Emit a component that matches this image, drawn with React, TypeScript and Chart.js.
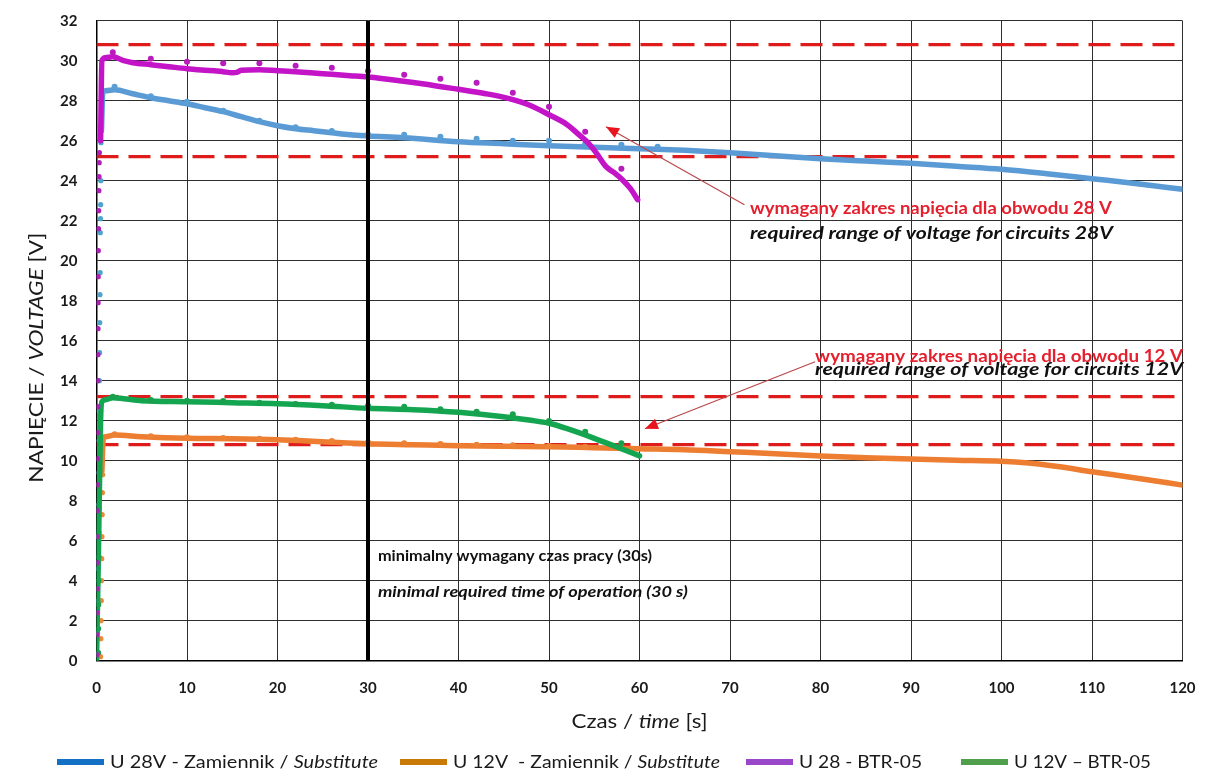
import React, { useEffect, useRef } from "react";
import { Chart, registerables } from "chart.js";

Chart.register(...registerables);

// ---------- DATA ----------
const X_MIN = 0;
const X_MAX = 120;
const X_STEP = 10;
const Y_MIN = 0;
const Y_MAX = 32;
const Y_STEP = 2;

// required voltage ranges (red dashed limits)
const range28 = [30.8, 25.2];
const range12 = [13.2, 10.8];
// minimal required operating time
const minTime = 30;

// U 28V - Zamiennik / Substitute (blue)
const blueLineT = [0.55, 0.7, 1, 2, 4, 6, 8, 10, 12, 14, 16, 18, 20, 22, 24, 26, 28, 30, 34, 40, 45, 50, 55, 60, 65, 70, 75, 80, 85, 90, 95, 100, 105, 110, 115, 120];
const blueLineV = [26.5, 28.45, 28.5, 28.55, 28.35, 28.15, 28.0, 27.85, 27.65, 27.45, 27.2, 26.95, 26.75, 26.6, 26.5, 26.4, 26.3, 26.24, 26.15, 25.95, 25.85, 25.75, 25.67, 25.6, 25.52, 25.4, 25.25, 25.1, 24.98, 24.87, 24.72, 24.57, 24.35, 24.1, 23.85, 23.57];
const blueDotT = [2, 6, 10, 14, 18, 22, 26, 30, 34, 38, 42, 46, 50, 54, 58, 62];
const blueDotV = [28.7, 28.22, 27.95, 27.5, 27.0, 26.67, 26.48, 26.32, 26.3, 26.2, 26.1, 26.0, 26.0, 25.85, 25.8, 25.7];
const blueRiseT = [0.12, 0.15, 0.18, 0.2, 0.22, 0.25, 0.27, 0.3, 0.32, 0.34, 0.36, 0.38, 0.4, 0.42, 0.44, 0.46, 0.48, 0.5];
const blueRiseV = [1.4, 3.0, 4.6, 6.2, 7.8, 9.4, 11.0, 12.5, 14.0, 15.4, 16.9, 18.3, 19.4, 21.4, 22.1, 22.8, 24.0, 25.9];

// U 12V - Zamiennik / Substitute (orange)
const orangeLineT = [0.6, 0.75, 1, 2, 5, 10, 15, 20, 25, 30, 35, 40, 45, 50, 55, 60, 65, 70, 75, 80, 85, 90, 95, 100, 103, 106, 110, 115, 120];
const orangeLineV = [9.5, 11.15, 11.2, 11.28, 11.2, 11.12, 11.1, 11.05, 10.95, 10.85, 10.8, 10.75, 10.72, 10.7, 10.65, 10.6, 10.55, 10.45, 10.35, 10.24, 10.15, 10.08, 10.02, 9.97, 9.88, 9.72, 9.45, 9.12, 8.78];
const orangeDotT = [2, 6, 10, 14, 18, 22, 26, 30, 34, 38, 42, 46, 50, 54, 58];
const orangeDotV = [11.32, 11.22, 11.17, 11.14, 11.1, 11.05, 10.98, 10.92, 10.87, 10.84, 10.8, 10.77, 10.73, 10.7, 10.66];
const orangeRiseT = [0.45, 0.48, 0.5, 0.53, 0.55, 0.58, 0.6, 0.63, 0.65, 0.68];
const orangeRiseV = [0.2, 1.1, 2.0, 3.0, 4.0, 5.1, 6.2, 7.3, 8.4, 9.3];

// U 28 - BTR-05 (purple)
const purpleLineT = [0.45, 0.6, 1, 1.8, 3, 4, 6, 8, 10, 12, 13, 14, 15, 15.5, 16, 18, 20, 22, 25, 28, 30, 33.5, 36, 40, 43, 45.6, 48, 50, 52, 53.3, 54.3, 55.2, 56.3, 57.2, 58.1, 59, 59.8];
const purpleLineV = [26.0, 30.0, 30.15, 30.2, 30.0, 29.9, 29.8, 29.7, 29.6, 29.52, 29.5, 29.45, 29.4, 29.42, 29.52, 29.55, 29.5, 29.45, 29.35, 29.25, 29.18, 29.0, 28.85, 28.57, 28.35, 28.1, 27.75, 27.3, 26.8, 26.3, 25.9, 25.4, 24.7, 24.4, 24.05, 23.6, 23.05];
const purpleDotT = [1.8, 6, 10, 14, 18, 22, 26, 30, 34, 38, 42, 46, 50, 54, 58];
const purpleDotV = [30.42, 30.1, 29.95, 29.87, 29.87, 29.75, 29.65, 29.48, 29.3, 29.1, 28.9, 28.4, 27.7, 26.45, 24.6];
const purpleRiseT = [0.04, 0.05, 0.06, 0.07, 0.08, 0.09, 0.1, 0.11, 0.12, 0.13, 0.14, 0.15, 0.16, 0.17, 0.18, 0.19, 0.2, 0.22, 0.24, 0.26, 0.28, 0.3, 0.32];
const purpleRiseV = [0.3, 1.3, 2.4, 3.6, 4.9, 6.2, 7.5, 8.8, 10.1, 11.4, 12.7, 14.0, 15.3, 16.6, 17.9, 19.2, 20.5, 21.6, 22.5, 23.5, 24.2, 24.9, 25.4];

// U 12V – BTR-05 (green)
const greenLineT = [0, 0.2, 0.45, 0.6, 1, 1.8, 3, 5, 10, 15, 20, 25, 30, 35, 40, 45, 48, 50, 52, 55, 58, 60];
const greenLineV = [0, 5.0, 12.0, 12.95, 13.05, 13.15, 13.1, 13.0, 12.95, 12.9, 12.85, 12.75, 12.62, 12.55, 12.42, 12.2, 12.02, 11.87, 11.6, 11.12, 10.6, 10.24];
const greenDotT = [1.8, 6, 10, 14, 18, 22, 26, 30, 34, 38, 42, 46, 50, 54, 58];
const greenDotV = [13.2, 13.03, 13.0, 12.98, 12.9, 12.83, 12.8, 12.75, 12.7, 12.57, 12.45, 12.32, 11.98, 11.45, 10.87];
const greenRiseT = [0.22, 0.23, 0.24, 0.25, 0.26, 0.27, 0.28, 0.29, 0.3, 0.31];
const greenRiseV = [0.4, 1.6, 2.8, 4.0, 5.2, 6.4, 7.6, 8.8, 10.0, 11.2];

const legendLabels = [
  [{ t: "U 28V - Zamiennik / " }, { t: "Substitute", it: true }],
  [{ t: "U 12V  - Zamiennik / " }, { t: "Substitute", it: true }],
  [{ t: "U 28 - BTR-05" }],
  [{ t: "U 12V \u2013 BTR-05" }],
];
const legendColors = ["#1470c4", "#c97a06", "#9a46c8", "#4f9f4c"];

// ---------- STYLE ----------
const FONT = "Lato, 'Open Sans', sans-serif";
const C_BLUE = "#5b9bd5";
const C_ORANGE = "#ed7d31";
const C_PURPLE = "#c414c8";
const C_GREEN = "#14a550";
const C_RED = "#de1c1c";

const pts = (t: number[], v: number[]) => t.map((x, i) => ({ x, y: v[i] }));

type Run = { t: string; it?: boolean; b?: boolean };

function drawRuns(
  ctx: CanvasRenderingContext2D,
  runs: Run[],
  x: number,
  y: number,
  size: number,
  color: string,
  targetW?: number,
  align: "left" | "center" = "left",
  bold = false
) {
  const fonts = runs.map(
    (r) => `${r.it ? "italic " : ""}${r.b || bold ? "bold " : ""}${size}px ${FONT}`
  );
  const widths = runs.map((r, i) => {
    ctx.font = fonts[i];
    return ctx.measureText(r.t).width;
  });
  const natural = widths.reduce((a, b) => a + b, 0);
  const w = targetW ?? natural;
  const sx = w / natural;
  ctx.save();
  ctx.translate(align === "center" ? x - w / 2 : x, y);
  ctx.scale(sx, 1);
  ctx.textBaseline = "middle";
  ctx.textAlign = "left";
  ctx.fillStyle = color;
  let cx = 0;
  runs.forEach((r, i) => {
    ctx.font = fonts[i];
    ctx.fillText(r.t, cx, 0);
    cx += widths[i];
  });
  ctx.restore();
}

function arrow(ctx: CanvasRenderingContext2D, x1: number, y1: number, x2: number, y2: number) {
  ctx.save();
  ctx.strokeStyle = "#b8474a";
  ctx.lineWidth = 1.2;
  ctx.beginPath();
  ctx.moveTo(x1, y1);
  ctx.lineTo(x2, y2);
  ctx.stroke();
  const a = Math.atan2(y2 - y1, x2 - x1);
  const L = 13;
  const W = 5.5;
  ctx.fillStyle = "#e8141e";
  ctx.beginPath();
  ctx.moveTo(x2, y2);
  ctx.lineTo(x2 - L * Math.cos(a) + W * Math.sin(a), y2 - L * Math.sin(a) - W * Math.cos(a));
  ctx.lineTo(x2 - L * Math.cos(a) - W * Math.sin(a), y2 - L * Math.sin(a) + W * Math.cos(a));
  ctx.closePath();
  ctx.fill();
  ctx.restore();
}

const annotationPlugin = {
  id: "annotations",
  afterDatasetsDraw(chart: any) {
    const ctx: CanvasRenderingContext2D = chart.ctx;
    const xs = chart.scales.x;
    const ys = chart.scales.y;
    const px = (v: number) => xs.getPixelForValue(v);
    const py = (v: number) => ys.getPixelForValue(v);

    // arrows
    arrow(ctx, px(71.6), py(22.8), px(56.3), py(26.7));
    arrow(ctx, px(79.4), py(14.95), px(60.6), py(11.6));

    // 28V note
    drawRuns(ctx, [{ t: "wymagany zakres napięcia dla obwodu 28 V", b: true }], px(72.2), py(22.6), 16.5, "#e5202e", 362);
    drawRuns(ctx, [{ t: "required range of voltage for circuits 28V", b: true, it: true }], px(72.2), py(21.33), 16.5, "#111", 363);
    // 12V note
    drawRuns(ctx, [{ t: "wymagany zakres napięcia dla obwodu 12 V", b: true }], px(79.4), py(15.2), 16.5, "#e5202e", 368);
    drawRuns(ctx, [{ t: "required range of voltage for circuits 12V", b: true, it: true }], px(79.4), py(14.53), 16.5, "#111", 368);
    // minimal time note
    drawRuns(ctx, [{ t: "minimalny wymagany czas pracy (30s)", b: true }], px(31.1), py(5.2), 14.5, "#111", 274);
    drawRuns(ctx, [{ t: "minimal required time of operation (30 s)", b: true, it: true }], px(31.1), py(3.43), 15.5, "#111", 310);
  },
  afterDraw(chart: any) {
    const ctx: CanvasRenderingContext2D = chart.ctx;
    const area = chart.chartArea;
    // x title
    drawRuns(
      ctx,
      [{ t: "Czas / " }, { t: "time", it: true }, { t: " [s]" }],
      (area.left + area.right) / 2,
      722,
      19,
      "#1a1a1a",
      136,
      "center"
    );
    // y title
    ctx.save();
    ctx.translate(37, (area.top + area.bottom) / 2 + 17);
    ctx.rotate(-Math.PI / 2);
    drawRuns(
      ctx,
      [{ t: "NAPIĘCIE / " }, { t: "VOLTAGE", it: true }, { t: " [V]" }],
      0,
      0,
      19,
      "#1a1a1a",
      250,
      "center"
    );
    ctx.restore();

    // legend
    const ly = 762;
    const sampleX = [57, 400, 746, 961];
    const sampleW = 47;
    const textW = [268, 267, 123, 137];
    legendLabels.forEach((runs, i) => {
      ctx.save();
      ctx.strokeStyle = legendColors[i];
      ctx.lineWidth = 6;
      ctx.beginPath();
      ctx.moveTo(sampleX[i], ly);
      ctx.lineTo(sampleX[i] + sampleW, ly);
      ctx.stroke();
      ctx.restore();
      drawRuns(ctx, runs as Run[], sampleX[i] + sampleW + 6, ly, 18, "#1a1a1a", textW[i]);
    });
  },
};

const lineDs = (label: string, t: number[], v: number[], color: string) => ({
  label,
  data: pts(t, v),
  showLine: true,
  borderColor: color,
  backgroundColor: color,
  borderWidth: 5.5,
  pointRadius: 0,
  tension: 0.3,
  cubicInterpolationMode: "monotone" as const,
  borderCapStyle: "round" as const,
  borderJoinStyle: "round" as const,
});

const dotDs = (label: string, t: number[], v: number[], color: string, r: number) => ({
  label,
  data: pts(t, v),
  showLine: false,
  borderColor: color,
  backgroundColor: color,
  borderWidth: 0,
  pointRadius: r,
  pointStyle: "circle" as const,
});

const limitDs = (label: string, v: number) => ({
  label,
  data: [
    { x: X_MIN, y: v },
    { x: X_MAX, y: v },
  ],
  showLine: true,
  borderColor: C_RED,
  borderWidth: 3.3,
  borderDash: [22, 10],
  pointRadius: 0,
});

export default function App() {
  const canvasRef = useRef<HTMLCanvasElement | null>(null);

  useEffect(() => {
    if (!canvasRef.current) return;
    const chart = new Chart(canvasRef.current, {
      type: "scatter",
      data: {
        datasets: [
          {
            label: "minTime",
            data: [
              { x: minTime, y: Y_MIN },
              { x: minTime, y: Y_MAX },
            ],
            showLine: true,
            borderColor: "#000",
            borderWidth: 4,
            pointRadius: 0,
          } as any,
          dotDs("purpleDots", purpleDotT, purpleDotV, "#b81cbc", 3),
          lineDs("U 28 - BTR-05", purpleLineT, purpleLineV, C_PURPLE),
          dotDs("purpleRise", purpleRiseT, purpleRiseV, "#b020b8", 2.6),
          dotDs("greenDots", greenDotT, greenDotV, "#18a04c", 3),
          lineDs("U 12V – BTR-05", greenLineT, greenLineV, C_GREEN),
          dotDs("greenRise", greenRiseT, greenRiseV, "#1a9a50", 2.6),
          dotDs("blueDots", blueDotT, blueDotV, "#5a9ed6", 3),
          lineDs("U 28V - Zamiennik / Substitute", blueLineT, blueLineV, C_BLUE),
          dotDs("blueRise", blueRiseT, blueRiseV, "#4fa3cc", 2.6),
          dotDs("orangeDots", orangeDotT, orangeDotV, "#ec8236", 3),
          lineDs("U 12V - Zamiennik / Substitute", orangeLineT, orangeLineV, C_ORANGE),
          dotDs("orangeRise", orangeRiseT, orangeRiseV, "#e98a3a", 2.6),
          limitDs("max28", range28[0]),
          limitDs("min28", range28[1]),
          limitDs("max12", range12[0]),
          limitDs("min12", range12[1]),
        ] as any,
      },
      options: {
        responsive: true,
        maintainAspectRatio: false,
        animation: false,
        events: [],
        layout: { padding: { left: 0, top: 20.7, right: 24.5, bottom: 0 } },
        plugins: {
          legend: { display: false },
          tooltip: { enabled: false },
        },
        scales: {
          x: {
            type: "linear",
            min: X_MIN,
            max: X_MAX,
            ticks: {
              stepSize: X_STEP,
              padding: 18,
              color: "#1a1a1a",
              font: { family: FONT, size: 15, weight: "bold" },
            },
            grid: { color: "#2e2e2e", lineWidth: 1, drawTicks: false },
            border: { display: true, color: "#000", width: 1.5 },
            afterFit: (s: any) => {
              s.height = 123.3;
              s.paddingLeft = 0;
              s.paddingRight = 0;
            },
          },
          y: {
            type: "linear",
            min: Y_MIN,
            max: Y_MAX,
            ticks: {
              stepSize: Y_STEP,
              padding: 19,
              color: "#1a1a1a",
              font: { family: FONT, size: 15, weight: "bold" },
            },
            grid: { color: "#2e2e2e", lineWidth: 1, drawTicks: false },
            border: { display: true, color: "#000", width: 1.5 },
            afterFit: (s: any) => {
              s.width = 96.5;
              s.paddingTop = 0;
              s.paddingBottom = 0;
            },
          },
        },
      } as any,
      plugins: [annotationPlugin],
    });
    return () => chart.destroy();
  }, []);

  return (
    <div
      style={{
        position: "absolute",
        left: 0,
        top: 0,
        width: 1207,
        height: 784,
        background: "#fff",
      }}
    >
      <canvas ref={canvasRef} />
    </div>
  );
}
